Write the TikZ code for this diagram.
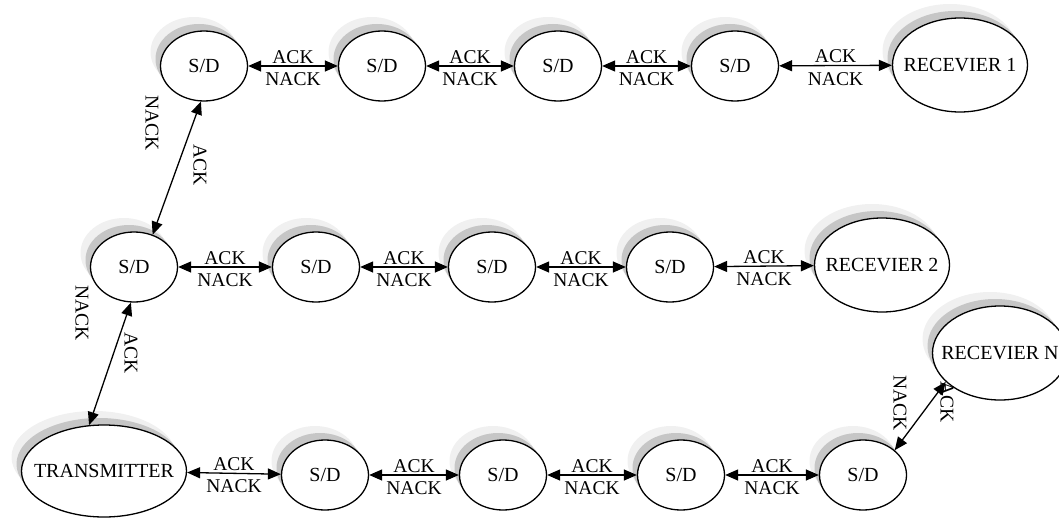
\documentclass[tikz,border=0pt]{standalone}
\usepackage{fontspec}
\setmainfont{Liberation Serif}
\usetikzlibrary{arrows.meta,shapes.geometric,shadows}
\tikzset{
  shad/.style={general shadow={fill=gray!12, shadow xshift=-10pt, shadow yshift=14pt},
               general shadow={fill=gray!45, shadow xshift=-5pt, shadow yshift=7pt}},
  sd/.style={ellipse, draw, line width=1.3pt, fill=white, inner sep=0pt, shad,
             minimum width=87pt, minimum height=70pt, font=\fontsize{20}{23}\selectfont},
  big/.style={sd, minimum width=135pt, minimum height=94pt},
  tx/.style={sd, minimum width=165pt, minimum height=92pt},
  arr/.style={{Triangle[length=13pt,width=11pt]}-{Triangle[length=13pt,width=11pt]}, line width=1.3pt},
  lab/.style={font=\fontsize{19.5}{22}\selectfont, inner sep=1pt},
  vlab/.style={lab, rotate=-90}
}
\begin{document}
\begin{tikzpicture}[x=1pt,y=-1pt]
\useasboundingbox (0,0) rectangle (1059,519);
% row 1
\node[sd] (a1) at (204,66) {\makebox[0pt]{S/D}};
\node[sd] (a2) at (382,66) {\makebox[0pt]{S/D}};
\node[sd] (a3) at (558,66) {\makebox[0pt]{S/D}};
\node[sd] (a4) at (735,66) {\makebox[0pt]{S/D}};
\node[big] (r1) at (960,65) {\makebox[0pt]{RECEVIER 1}};
% row 2
\node[sd] (b1) at (134,267) {\makebox[0pt]{S/D}};
\node[sd] (b2) at (316,267) {\makebox[0pt]{S/D}};
\node[sd] (b3) at (492,267) {\makebox[0pt]{S/D}};
\node[sd] (b4) at (670,267) {\makebox[0pt]{S/D}};
\node[big] (r2) at (882,265) {\makebox[0pt]{RECEVIER 2}};
% row 3
\node[tx] (t) at (104,471) {\makebox[0pt]{TRANSMITTER}};
\node[sd] (c1) at (325,475) {\makebox[0pt]{S/D}};
\node[sd] (c2) at (503,475) {\makebox[0pt]{S/D}};
\node[sd] (c3) at (681,475) {\makebox[0pt]{S/D}};
\node[sd] (c4) at (863,475) {\makebox[0pt]{S/D}};
% horizontal links
\foreach \u/\v in {a1/a2,a2/a3,a3/a4,a4/r1,b1/b2,b2/b3,b3/b4,b4/r2,t/c1,c1/c2,c2/c3,c3/c4}{
  \draw[arr] (\u) -- node[lab,above=1pt]{ACK} node[lab,below=5pt]{NACK} (\v);
}
% diagonal links
\draw[arr] (a1.265) -- (b1.60);
\node[vlab] (l1) at (152,123) {NACK};
\node[vlab] (l2) at (200,165) {ACK};
\draw[arr] (b1.265) -- (t.108);
\node[vlab] (l3) at (82,313) {NACK};
\node[vlab] (l4) at (131,353) {ACK};
\node[vlab] (l6) at (947,402) {ACK};
\node[big] (rn) at (1000,353) {\makebox[0pt]{RECEVIER N}};
\draw[arr] (c4.38) -- (rn.208);
\node[vlab] (l5) at (900,403) {NACK};
\end{tikzpicture}
\end{document}
